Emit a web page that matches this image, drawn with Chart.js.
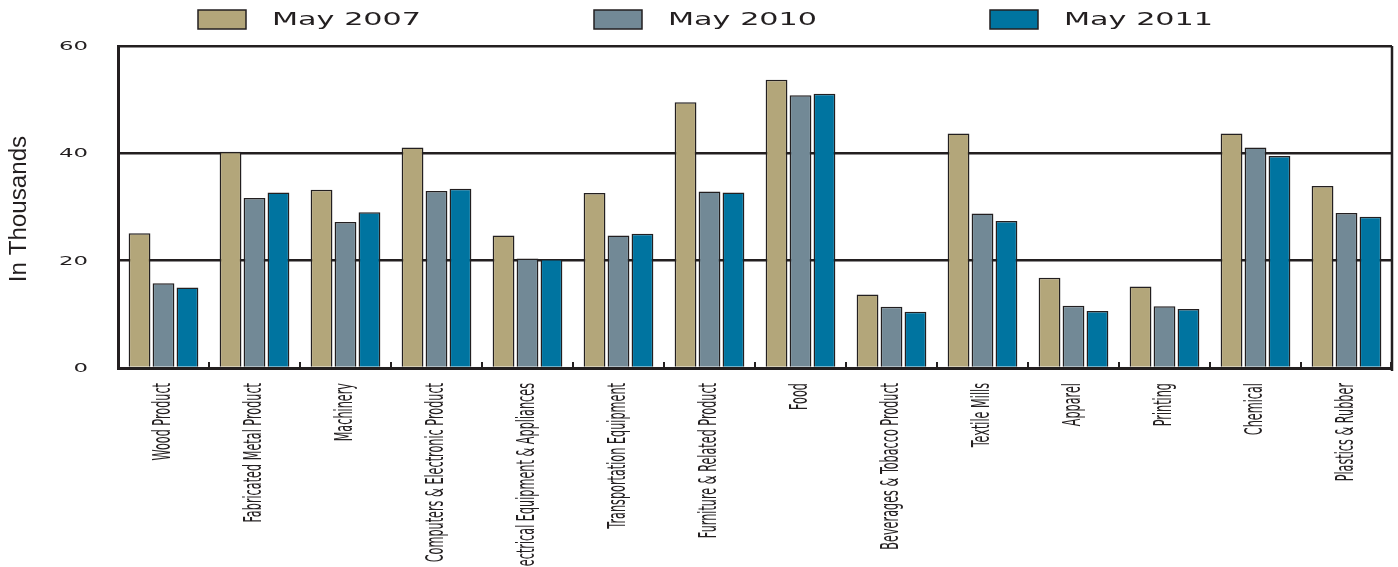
<!DOCTYPE html>
<html>
<head>
<meta charset="utf-8">
<title>Employment by Industry</title>
<script src="https://cdn.jsdelivr.net/npm/chart.js@4.4.1/dist/chart.umd.min.js"></script>
<style>
  html, body { margin: 0; padding: 0; background: #fff; }
  #wrap { position: relative; width: 1398px; height: 567px; }
</style>
</head>
<body>
<div id="wrap"><canvas id="chart"></canvas></div>
<script>
// ---- data (thousands of jobs) ----
const industries = [
  'Wood Product', 'Fabricated Metal Product', 'Machinery',
  'Computers & Electronic Product', 'Electrical Equipment & Appliances',
  'Transportation Equipment', 'Furniture & Related Product', 'Food',
  'Beverages & Tobacco Product', 'Textile Mills', 'Apparel', 'Printing',
  'Chemical', 'Plastics & Rubber'
];
const may2007 = [25.1, 40.3, 33.2, 41.1, 24.7, 32.6, 49.5, 53.7, 13.7, 43.7, 16.8, 15.2, 43.7, 33.9];
const may2010 = [15.8, 31.7, 27.2, 33.0, 20.4, 24.7, 32.9, 50.8, 11.4, 28.8, 11.6, 11.5, 41.1, 28.9];
const may2011 = [15.0, 32.7, 29.0, 33.4, 20.3, 25.0, 32.7, 51.1, 10.5, 27.4, 10.6, 11.0, 39.5, 28.2];
const seriesNames = ['May 2007', 'May 2010', 'May 2011'];
const yTicks = [0, 20, 40, 60];
const yTitle = 'In Thousands';

// ---- styling ----
const INK = '#231f20';
const seriesColors = ['#b3a67a', '#728996', '#0074a0'];

// text squashed/stretched along one axis, anchored at (0,0) after transforms
function drawText(ctx, text, x, y, opts) {
  ctx.save();
  ctx.translate(x, y);
  if (opts.rotate) ctx.rotate(opts.rotate);
  ctx.scale(opts.sx || 1, opts.sy || 1);
  ctx.font = opts.font;
  ctx.fillStyle = INK;
  ctx.textAlign = opts.align || 'left';
  ctx.textBaseline = opts.baseline || 'middle';
  ctx.fillText(text, 0, 0);
  ctx.restore();
}

// frame, tick marks, axis labels and legend drawn on top of chart.js output
const decorations = {
  id: 'decorations',
  afterDatasetsDraw(chart) {
    const { ctx, chartArea: a } = chart;
    ctx.save();
    ctx.strokeStyle = INK;
    // right-hand frame line
    ctx.lineWidth = 2.5;
    ctx.beginPath();
    ctx.moveTo(a.right, a.top);
    ctx.lineTo(a.right, a.bottom + 3);
    ctx.stroke();
    // short ticks between categories
    ctx.lineWidth = 2;
    const step = (a.right - a.left) / industries.length;
    for (let i = 1; i <= industries.length; i++) {
      const tx = Math.round(a.left + i * step) - (i === industries.length ? 1 : 0);
      ctx.beginPath();
      ctx.moveTo(tx, a.bottom - 6);
      ctx.lineTo(tx, a.bottom);
      ctx.stroke();
    }
    ctx.restore();
  },
  afterDraw(chart) {
    const { ctx, chartArea: a, scales: { x, y } } = chart;

    // y tick labels
    y.ticks.forEach(t => {
      drawText(ctx, String(t.value), a.left - 30, y.getPixelForValue(t.value) + 1, {
        font: '12px "DejaVu Sans"', sx: 1.9, align: 'right'
      });
    });

    // y axis title
    drawText(ctx, yTitle, 20, 209, {
      font: '23px "Liberation Sans", Arial, sans-serif', rotate: -Math.PI / 2, align: 'center', sx: 1.05
    });

    // category labels, rotated
    industries.forEach((name, i) => {
      drawText(ctx, name, x.getPixelForValue(i), a.bottom + 15, {
        font: '12.5px "Liberation Sans Narrow", "DejaVu Sans Condensed", sans-serif',
        rotate: -Math.PI / 2, sy: 2.0, align: 'right'
      });
    });

    // legend
    chart.data.datasets.forEach((ds, k) => {
      const bx = 198 + k * 396;
      ctx.save();
      ctx.fillStyle = ds.backgroundColor;
      ctx.strokeStyle = INK;
      ctx.lineWidth = 1.5;
      ctx.fillRect(bx, 10, 48, 19);
      ctx.strokeRect(bx, 10, 48, 19);
      ctx.restore();
      drawText(ctx, ds.label, bx + 74, 20, { font: '18px "DejaVu Sans"', sx: 1.68 });
    });
  }
};

const series = [may2007, may2010, may2011];

new Chart(document.getElementById('chart'), {
  type: 'bar',
  data: {
    labels: industries,
    datasets: series.map((values, k) => ({
      label: seriesNames[k],
      data: values,
      backgroundColor: seriesColors[k],
      borderColor: INK,
      borderWidth: 1.5,
      categoryPercentage: 0.79,
      barPercentage: 0.91
    }))
  },
  options: {
    responsive: true,
    maintainAspectRatio: false,
    animation: false,
    layout: { padding: { left: 118, right: 6, top: 46, bottom: 191 } },
    plugins: { legend: { display: false }, tooltip: { enabled: false } },
    scales: {
      x: {
        grid: { display: false },
        border: { display: true, color: INK, width: 3 },
        ticks: { display: false }
      },
      y: {
        min: 0,
        max: yTicks[yTicks.length - 1],
        afterBuildTicks: s => { s.ticks = yTicks.map(v => ({ value: v })); },
        grid: { color: INK, lineWidth: 2.5, drawTicks: false },
        border: { display: true, color: INK, width: 3 },
        ticks: { display: false }
      }
    }
  },
  plugins: [decorations]
});
</script>
</body>
</html>
